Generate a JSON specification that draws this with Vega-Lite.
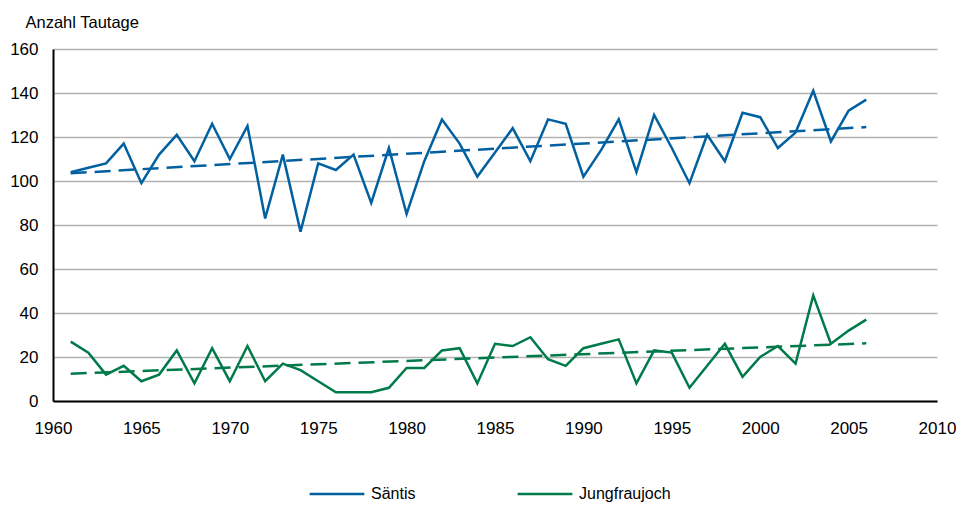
{
  "$schema": "https://vega.github.io/schema/vega-lite/v6.json",
  "width": 884,
  "height": 352,
  "padding": {"left": 53, "top": 49, "right": 19, "bottom": 104},
  "autosize": {"type": "none"},
  "background": "white",
  "config": {
    "view": {"stroke": null},
    "font": "Liberation Sans",
    "axis": {"labelFont": "Liberation Sans", "titleFont": "Liberation Sans", "labelColor": "black", "titleColor": "black"},
    "legend": {"labelFont": "Liberation Sans"}
  },
  "datasets": {
    "obs": [
      {"year": 1961, "series": "Säntis", "value": 104},
      {"year": 1962, "series": "Säntis", "value": 106},
      {"year": 1963, "series": "Säntis", "value": 108},
      {"year": 1964, "series": "Säntis", "value": 117},
      {"year": 1965, "series": "Säntis", "value": 99},
      {"year": 1966, "series": "Säntis", "value": 112},
      {"year": 1967, "series": "Säntis", "value": 121},
      {"year": 1968, "series": "Säntis", "value": 109},
      {"year": 1969, "series": "Säntis", "value": 126},
      {"year": 1970, "series": "Säntis", "value": 110},
      {"year": 1971, "series": "Säntis", "value": 125},
      {"year": 1972, "series": "Säntis", "value": 83},
      {"year": 1973, "series": "Säntis", "value": 112},
      {"year": 1974, "series": "Säntis", "value": 77},
      {"year": 1975, "series": "Säntis", "value": 108},
      {"year": 1976, "series": "Säntis", "value": 105},
      {"year": 1977, "series": "Säntis", "value": 112},
      {"year": 1978, "series": "Säntis", "value": 90},
      {"year": 1979, "series": "Säntis", "value": 115},
      {"year": 1980, "series": "Säntis", "value": 85},
      {"year": 1981, "series": "Säntis", "value": 109},
      {"year": 1982, "series": "Säntis", "value": 128},
      {"year": 1983, "series": "Säntis", "value": 117},
      {"year": 1984, "series": "Säntis", "value": 102},
      {"year": 1985, "series": "Säntis", "value": 113},
      {"year": 1986, "series": "Säntis", "value": 124},
      {"year": 1987, "series": "Säntis", "value": 109},
      {"year": 1988, "series": "Säntis", "value": 128},
      {"year": 1989, "series": "Säntis", "value": 126},
      {"year": 1990, "series": "Säntis", "value": 102},
      {"year": 1991, "series": "Säntis", "value": 114},
      {"year": 1992, "series": "Säntis", "value": 128},
      {"year": 1993, "series": "Säntis", "value": 104},
      {"year": 1994, "series": "Säntis", "value": 130},
      {"year": 1995, "series": "Säntis", "value": 115},
      {"year": 1996, "series": "Säntis", "value": 99},
      {"year": 1997, "series": "Säntis", "value": 121},
      {"year": 1998, "series": "Säntis", "value": 109},
      {"year": 1999, "series": "Säntis", "value": 131},
      {"year": 2000, "series": "Säntis", "value": 129},
      {"year": 2001, "series": "Säntis", "value": 115},
      {"year": 2002, "series": "Säntis", "value": 122},
      {"year": 2003, "series": "Säntis", "value": 141},
      {"year": 2004, "series": "Säntis", "value": 118},
      {"year": 2005, "series": "Säntis", "value": 132},
      {"year": 2006, "series": "Säntis", "value": 137},
      {"year": 1961, "series": "Jungfraujoch", "value": 27},
      {"year": 1962, "series": "Jungfraujoch", "value": 22},
      {"year": 1963, "series": "Jungfraujoch", "value": 12},
      {"year": 1964, "series": "Jungfraujoch", "value": 16},
      {"year": 1965, "series": "Jungfraujoch", "value": 9},
      {"year": 1966, "series": "Jungfraujoch", "value": 12},
      {"year": 1967, "series": "Jungfraujoch", "value": 23},
      {"year": 1968, "series": "Jungfraujoch", "value": 8},
      {"year": 1969, "series": "Jungfraujoch", "value": 24},
      {"year": 1970, "series": "Jungfraujoch", "value": 9},
      {"year": 1971, "series": "Jungfraujoch", "value": 25},
      {"year": 1972, "series": "Jungfraujoch", "value": 9},
      {"year": 1973, "series": "Jungfraujoch", "value": 17},
      {"year": 1974, "series": "Jungfraujoch", "value": 14},
      {"year": 1975, "series": "Jungfraujoch", "value": 9},
      {"year": 1976, "series": "Jungfraujoch", "value": 4},
      {"year": 1977, "series": "Jungfraujoch", "value": 4},
      {"year": 1978, "series": "Jungfraujoch", "value": 4},
      {"year": 1979, "series": "Jungfraujoch", "value": 6},
      {"year": 1980, "series": "Jungfraujoch", "value": 15},
      {"year": 1981, "series": "Jungfraujoch", "value": 15},
      {"year": 1982, "series": "Jungfraujoch", "value": 23},
      {"year": 1983, "series": "Jungfraujoch", "value": 24},
      {"year": 1984, "series": "Jungfraujoch", "value": 8},
      {"year": 1985, "series": "Jungfraujoch", "value": 26},
      {"year": 1986, "series": "Jungfraujoch", "value": 25},
      {"year": 1987, "series": "Jungfraujoch", "value": 29},
      {"year": 1988, "series": "Jungfraujoch", "value": 19},
      {"year": 1989, "series": "Jungfraujoch", "value": 16},
      {"year": 1990, "series": "Jungfraujoch", "value": 24},
      {"year": 1991, "series": "Jungfraujoch", "value": 26},
      {"year": 1992, "series": "Jungfraujoch", "value": 28},
      {"year": 1993, "series": "Jungfraujoch", "value": 8},
      {"year": 1994, "series": "Jungfraujoch", "value": 23},
      {"year": 1995, "series": "Jungfraujoch", "value": 22},
      {"year": 1996, "series": "Jungfraujoch", "value": 6},
      {"year": 1997, "series": "Jungfraujoch", "value": 16},
      {"year": 1998, "series": "Jungfraujoch", "value": 26},
      {"year": 1999, "series": "Jungfraujoch", "value": 11},
      {"year": 2000, "series": "Jungfraujoch", "value": 20},
      {"year": 2001, "series": "Jungfraujoch", "value": 25},
      {"year": 2002, "series": "Jungfraujoch", "value": 17},
      {"year": 2003, "series": "Jungfraujoch", "value": 48},
      {"year": 2004, "series": "Jungfraujoch", "value": 26},
      {"year": 2005, "series": "Jungfraujoch", "value": 32},
      {"year": 2006, "series": "Jungfraujoch", "value": 37}
    ],
    "trend": [
      {"year": 1961, "series": "Säntis", "value": 103.5},
      {"year": 2006, "series": "Säntis", "value": 124.5},
      {"year": 1961, "series": "Jungfraujoch", "value": 12.4},
      {"year": 2006, "series": "Jungfraujoch", "value": 26.2}
    ]
  },
  "encoding": {
    "x": {
      "field": "year", "type": "quantitative",
      "scale": {"domain": [1960, 2010], "nice": false, "zero": false},
      "axis": {
        "title": null, "values": [1960, 1965, 1970, 1975, 1980, 1985, 1990, 1995, 2000, 2005, 2010],
        "format": "d", "grid": false, "ticks": false, "domainColor": "black", "domainWidth": 2,
        "labelFontSize": 17, "labelPadding": 19, "labelFlush": false
      }
    },
    "y": {
      "field": "value", "type": "quantitative",
      "scale": {"domain": [0, 160], "nice": false},
      "axis": {
        "title": "Anzahl Tautage", "titleAngle": 0, "titleAlign": "left", "titleBaseline": "alphabetic",
        "titleX": -28, "titleY": -22, "titleFontSize": 16.5, "titleFontWeight": "normal",
        "values": [0, 20, 40, 60, 80, 100, 120, 140, 160],
        "grid": true, "gridColor": "#b3b3b3", "gridWidth": 1.5,
        "ticks": false, "domainColor": "black", "domainWidth": 2,
        "labelFontSize": 17, "labelPadding": 15
      }
    },
    "color": {
      "field": "series", "type": "nominal",
      "scale": {"domain": ["Säntis", "Jungfraujoch"], "range": ["#0060a0", "#007a4a"]},
      "legend": {
        "title": null, "orient": "none", "legendX": 255, "legendY": 416, "direction": "horizontal",
        "symbolType": "stroke", "symbolSize": 3000, "symbolStrokeWidth": 2.5,
        "labelFontSize": 16, "labelOffset": 5, "columnPadding": 96, "labelColor": "black"
      }
    }
  },
  "layer": [
    {
      "data": {"name": "trend"},
      "mark": {"type": "line", "strokeWidth": 2.5, "strokeDash": [16, 8]}
    },
    {
      "data": {"name": "obs"},
      "mark": {"type": "line", "strokeWidth": 2.5}
    }
  ]
}
